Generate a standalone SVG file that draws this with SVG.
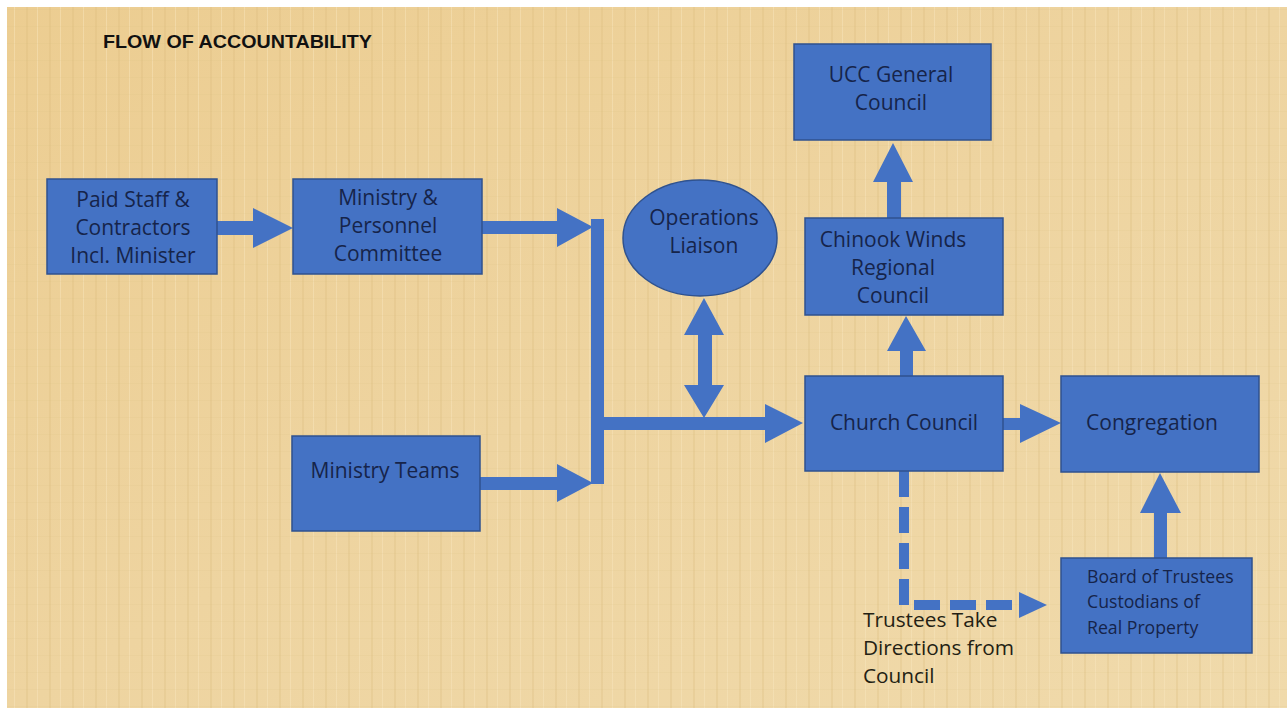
<svg xmlns="http://www.w3.org/2000/svg" width="1287" height="708" viewBox="0 0 1287 708">
<defs>
<pattern id="tex" x="0" y="0" width="23" height="17" patternUnits="userSpaceOnUse">
<rect x="3" y="0" width="2" height="17" fill="#d6b676" opacity="0.25"/>
<rect x="14" y="0" width="1" height="17" fill="#f8e6bf" opacity="0.45"/>
<rect x="0" y="9" width="23" height="1" fill="#dcbc7e" opacity="0.12"/>
</pattern>
<linearGradient id="shade" x1="0" y1="0" x2="1" y2="1">
<stop offset="0" stop-color="#eccd91"/>
<stop offset="0.5" stop-color="#eed4a0"/>
<stop offset="1" stop-color="#f0daab"/>
</linearGradient>
</defs>
<style>
.box{fill:#4472c4;stroke:#2f528f;stroke-width:1.5}
.lbl{font-family:"Open Sans","Liberation Sans",sans-serif;font-size:21px;fill:#16244a;text-anchor:middle}
.sm{font-family:"Open Sans","Liberation Sans",sans-serif;font-size:17.7px;fill:#16244a}
.note{font-family:"Open Sans","Liberation Sans",sans-serif;font-size:20.8px;fill:#241f14}
.arr{fill:#4472c4}
.dash{fill:none;stroke:#4472c4;stroke-width:10;stroke-dasharray:26 10}
</style>
<rect width="1287" height="708" fill="#ffffff"/>
<rect x="7" y="7" width="1280" height="701" fill="url(#shade)"/>
<rect x="7" y="7" width="1280" height="701" fill="url(#tex)"/>
<text x="103" y="48" font-family="Liberation Sans,Arial,sans-serif" font-weight="bold" font-size="17.5" fill="#111" textLength="269" lengthAdjust="spacingAndGlyphs">FLOW OF ACCOUNTABILITY</text>

<g id="connectors">
<polygon class="arr" points="217,221 253,221 253,208 293,228 253,248 253,235 217,235"/>
<polygon class="arr" points="482,221 557,221 557,208 593,227 557,247 557,234 482,234"/>
<polygon class="arr" points="480,477 557,477 557,464 593,483 557,502 557,490 480,490"/>
<rect class="arr" x="591" y="219" width="13" height="265"/>
<polygon class="arr" points="604,417 765,417 765,404 803,423 765,443 765,430 604,430"/>
<polygon class="arr" points="704,298 724,335 712,335 712,385 724,385 704,418 684,385 698,385 698,335 684,335"/>
<polygon class="arr" points="900,376 900,351 887,351 906,316 926,351 913,351 913,376"/>
<polygon class="arr" points="887,218 887,182 873,182 893,143 913,182 901,182 901,218"/>
<polygon class="arr" points="1003,418 1020,418 1020,404 1061,423 1020,443 1020,430 1003,430"/>
<polygon class="arr" points="1154,558 1154,513 1140,513 1160,473 1181,513 1167,513 1167,558"/>
<path class="dash" d="M904,471 V605 H1019"/>
<polygon class="arr" points="1019,592 1047,605 1019,618"/>
</g>

<g id="paid-staff">
<rect class="box" x="47" y="179" width="170" height="95"/>
<text class="lbl" x="133" y="207">Paid Staff &amp;</text>
<text class="lbl" x="133" y="235">Contractors</text>
<text class="lbl" x="133" y="263">Incl. Minister</text>
</g>
<g id="ministry-personnel">
<rect class="box" x="293" y="179" width="189" height="95"/>
<text class="lbl" x="388" y="205">Ministry &amp;</text>
<text class="lbl" x="388" y="233">Personnel</text>
<text class="lbl" x="388" y="261">Committee</text>
</g>
<g id="ministry-teams">
<rect class="box" x="292" y="436" width="188" height="95"/>
<text class="lbl" x="385" y="478">Ministry Teams</text>
</g>
<g id="operations-liaison">
<ellipse class="box" cx="700" cy="238" rx="77" ry="58"/>
<text class="lbl" x="704" y="225">Operations</text>
<text class="lbl" x="704" y="253">Liaison</text>
</g>
<g id="ucc-general-council">
<rect class="box" x="794" y="44" width="197" height="96"/>
<text class="lbl" x="891" y="82">UCC General</text>
<text class="lbl" x="891" y="110">Council</text>
</g>
<g id="chinook-winds">
<rect class="box" x="805" y="218" width="198" height="97"/>
<text class="lbl" x="893" y="247">Chinook Winds</text>
<text class="lbl" x="893" y="275">Regional</text>
<text class="lbl" x="893" y="303">Council</text>
</g>
<g id="church-council">
<rect class="box" x="805" y="376" width="198" height="95"/>
<text class="lbl" x="904" y="430">Church Council</text>
</g>
<g id="congregation">
<rect class="box" x="1061" y="376" width="198" height="96"/>
<text class="lbl" x="1152" y="430">Congregation</text>
</g>
<g id="board-of-trustees">
<rect class="box" x="1061" y="558" width="191" height="95"/>
<text class="sm" x="1087" y="583">Board of Trustees</text>
<text class="sm" x="1087" y="608">Custodians of</text>
<text class="sm" x="1087" y="634">Real Property</text>
</g>
<g id="trustees-note">
<text class="note" x="863" y="627">Trustees Take</text>
<text class="note" x="863" y="655">Directions from</text>
<text class="note" x="863" y="683">Council</text>
</g>
</svg>
